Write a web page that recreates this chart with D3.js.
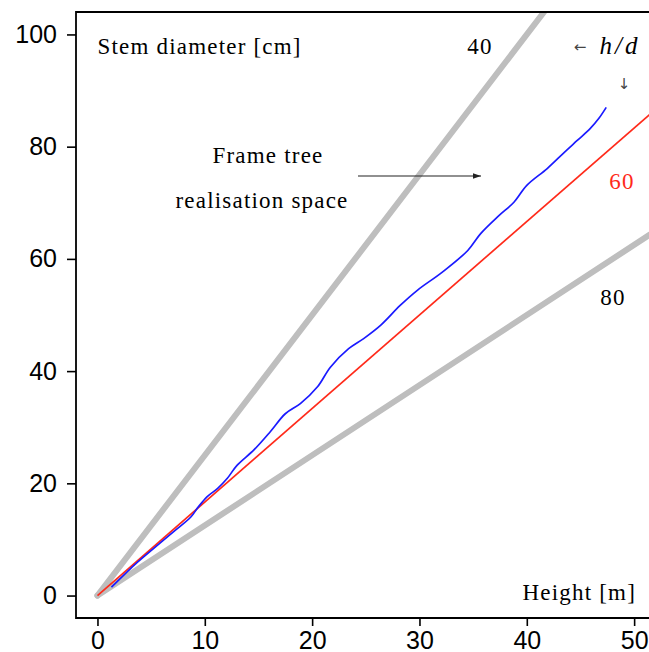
<!DOCTYPE html>
<html>
<head>
<meta charset="utf-8">
<script src="https://cdn.jsdelivr.net/npm/d3@7"></script>
<style>
  html, body { margin: 0; padding: 0; background: #fff; }
  svg { display: block; }
  .tick text { font-family: "Liberation Sans", Arial, sans-serif; }
  .serif { font-family: "Liberation Serif", "DejaVu Serif", serif; }
  .glyph { font-family: "DejaVu Sans", sans-serif; }
</style>
</head>
<body>
<svg id="chart" width="649" height="652"></svg>
<script>
// measured tree: height [m] and stem diameter [cm]
const heights = [1.3, 3.4, 4.3, 7.1, 8.7, 9.4, 10.2, 11.2, 12.1, 13.0, 14.6, 16.1, 17.5, 18.9, 20.5, 21.7, 23.4, 24.8, 26.4, 28.2, 29.8, 32.1, 34.5, 35.7, 37.4, 38.8, 40.0, 41.9, 43.5, 44.7, 45.9, 46.7, 47.4]
const diameters = [1.5, 5.4, 6.9, 11.4, 14.0, 15.8, 17.6, 19.1, 20.9, 23.2, 26.0, 29.2, 32.4, 34.2, 37.2, 40.7, 44.0, 45.8, 48.2, 51.7, 54.4, 57.6, 61.5, 64.5, 67.7, 70.1, 73.1, 76.1, 79.0, 81.1, 83.2, 85.0, 87.0]

// h/d ratios: gray limits and the frame tree ratio
const limitRatios = [40, 80]
const frameRatio = 60

const xTicks = [0, 10, 20, 30, 40, 50]
const yTicks = [0, 20, 40, 60, 80, 100]

const svg = d3.select("#chart")
const pl = 76, pr = 655.6, pt = 12, pb = 618

const x = d3.scaleLinear().domain([-2, 52]).range([pl, pr])
const y = d3.scaleLinear().domain([-4, 104]).range([pb, pt])

const defs = svg.append("defs")
defs.append("clipPath").attr("id", "clip")
  .append("rect")
  .attr("x", pl).attr("y", pt)
  .attr("width", pr - pl).attr("height", pb - pt)

const plot = svg.append("g").attr("clip-path", "url(#clip)")

// diameter (cm) = 100 * height (m) / ratio
const ratioLine = r => d3.line()([[x(0), y(0)], [x(60), y(6000 / r)]])

plot.selectAll(".limit")
  .data(limitRatios)
  .join("path")
  .attr("class", "limit")
  .attr("d", ratioLine)
  .attr("stroke", "#bebebe")
  .attr("stroke-width", 6)
  .attr("stroke-linecap", "round")
  .attr("fill", "none")

plot.append("path")
  .attr("d", ratioLine(frameRatio))
  .attr("stroke", "#ff2a1a")
  .attr("stroke-width", 1.7)
  .attr("fill", "none")

plot.append("path")
  .datum(heights.map((h, i) => [h, diameters[i]]))
  .attr("d", d3.line().x(d => x(d[0])).y(d => y(d[1])).curve(d3.curveCatmullRom))
  .attr("stroke", "#1a1aff")
  .attr("stroke-width", 1.7)
  .attr("fill", "none")

// frame: left, top, bottom (right side runs past the page)
svg.append("path")
  .attr("d", `M${pr},${pt}H${pl}V${pb}H${pr}`)
  .attr("stroke", "#000")
  .attr("stroke-width", 1.8)
  .attr("fill", "none")

const xAxis = svg.append("g")
  .attr("transform", `translate(0,${pb})`)
  .call(d3.axisBottom(x).tickValues(xTicks).tickSize(8).tickPadding(5))
const yAxis = svg.append("g")
  .attr("transform", `translate(${pl},0)`)
  .call(d3.axisLeft(y).tickValues(yTicks).tickSize(9).tickPadding(10))

for (const a of [xAxis, yAxis]) {
  a.select(".domain").remove()
  a.selectAll(".tick line").attr("stroke", "#000").attr("stroke-width", 1.6)
  a.selectAll(".tick text").attr("font-size", 25).attr("fill", "#000")
}

// annotations
const ann = svg.append("g").attr("class", "serif").attr("font-size", 23)
  .attr("letter-spacing", "1.2px").attr("fill", "#000")

ann.append("text").attr("x", x(0)).attr("y", 54).text("Stem diameter [cm]")
ann.append("text").attr("x", 480).attr("y", 54).attr("text-anchor", "middle").text("40")
ann.append("text").attr("x", 620).attr("y", 54).attr("text-anchor", "middle")
  .attr("font-style", "italic").attr("font-size", 25).attr("letter-spacing", "3px").text("h/d")
ann.append("text").attr("x", 622).attr("y", 189).attr("text-anchor", "middle")
  .attr("fill", "#ff2a1a").text("60")
ann.append("text").attr("x", 613).attr("y", 305).attr("text-anchor", "middle").text("80")
ann.append("text").attr("x", 268).attr("y", 163).attr("text-anchor", "middle").text("Frame tree")
ann.append("text").attr("x", 262).attr("y", 208).attr("text-anchor", "middle").text("realisation space")
ann.append("text").attr("x", 636).attr("y", 600).attr("text-anchor", "end").text("Height [m]")

const glyphs = svg.append("g").attr("class", "glyph").attr("font-size", 15).attr("fill", "#444")
glyphs.append("text").attr("x", 580).attr("y", 52).attr("text-anchor", "middle").text("←")
glyphs.append("text").attr("x", 624).attr("y", 89).attr("text-anchor", "middle").text("↓")

defs.append("marker")
  .attr("id", "arrow").attr("viewBox", "0 0 10 10")
  .attr("refX", 10).attr("refY", 5)
  .attr("markerWidth", 8).attr("markerHeight", 8)
  .attr("markerUnits", "userSpaceOnUse")
  .attr("orient", "auto")
  .append("path").attr("d", "M0,1.5L10,5L0,8.5Z").attr("fill", "#222")

svg.append("line")
  .attr("x1", 358).attr("y1", 176).attr("x2", 481).attr("y2", 176)
  .attr("stroke", "#222").attr("stroke-width", 1.1)
  .attr("marker-end", "url(#arrow)")
</script>
</body>
</html>
